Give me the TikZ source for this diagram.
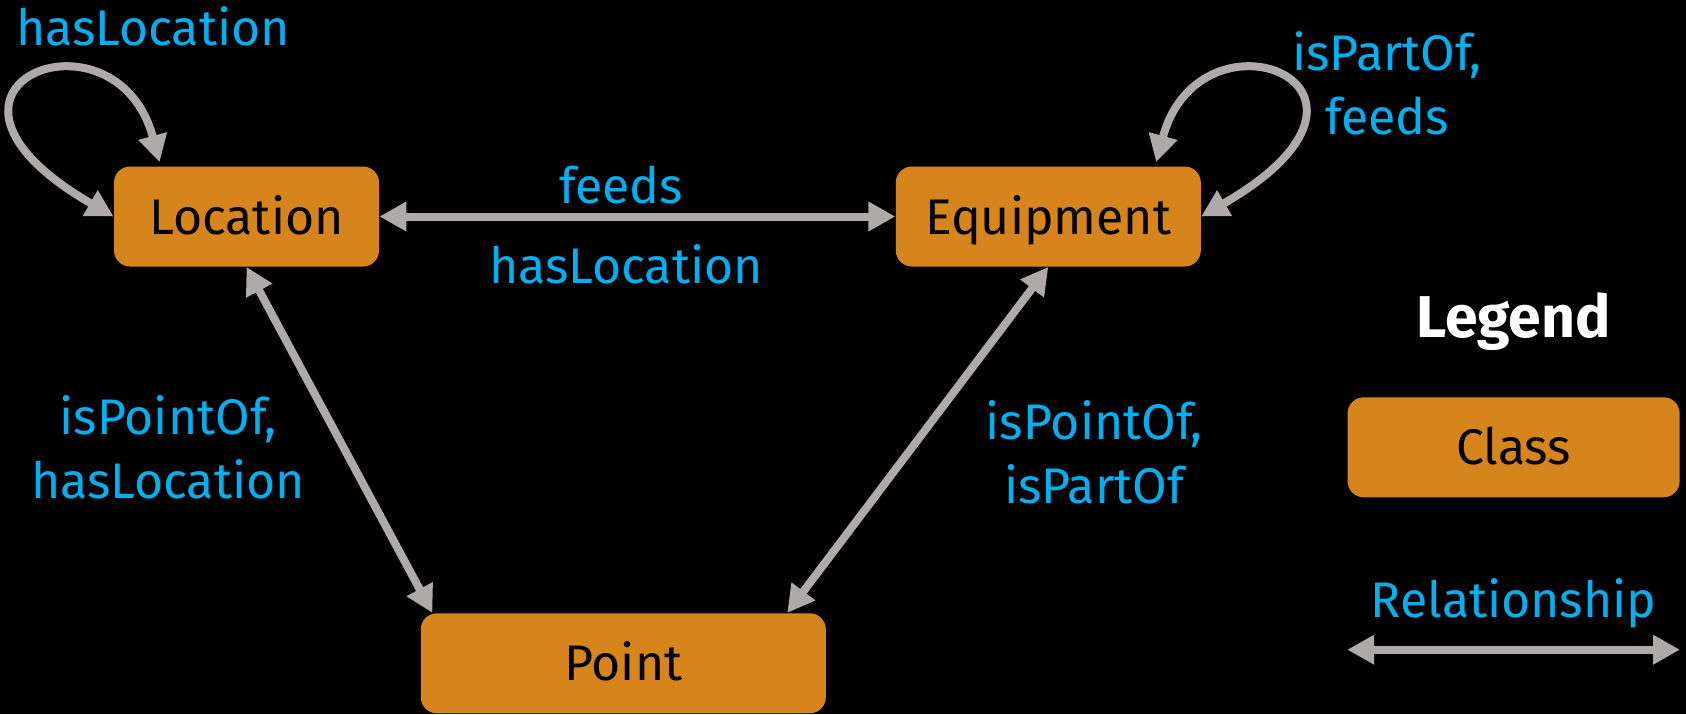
\documentclass[tikz,border=0pt]{standalone}
\usepackage{fontspec}
\setmainfont{Fira Sans}
\usetikzlibrary{arrows.meta,positioning}
\definecolor{clsorange}{RGB}{214,132,28}
\definecolor{relblue}{RGB}{0,176,240}
\definecolor{relgray}{RGB}{174,170,170}

\begin{document}
\begin{tikzpicture}[x=0.5pt, y=-0.5pt]
		\tikzstyle{cls}=[rectangle, rounded corners=8pt, fill=clsorange, text=black, inner sep=0pt, minimum height=50pt, text height=17.5pt, text depth=0pt, font=\fontsize{25}{30}\selectfont]
		\tikzstyle{rel}=[line width=4pt, draw=relgray, >={Triangle[length=13.5pt, width=14pt]}, <->]
		\tikzstyle{rlabel}=[text=relblue, inner sep=0pt, align=center, font=\fontsize{25}{32}\selectfont]
		\useasboundingbox[fill=black] (0,0) rectangle (1686,714);
		
		\node[cls, minimum width=132.5pt] (loc)    at (246.5,216.5)                      {Location};
		\node[cls, minimum width=152.5pt] (equip)  [right=258pt of loc]                  {Equipment};
		\node[cls, minimum width=202.5pt] (point)  [below right=173pt and 20.5pt of loc] {Point};
		\node[cls, minimum width=166pt]   (legcls) [below right=65pt and 73pt of equip]  {Class};
		
		\node[rlabel, anchor=base] (lbltop)    at (153,45)  {hasLocation};
		\node[rlabel, anchor=base] (lblfeeds)  at (621,203) {feeds};
		\node[rlabel, anchor=base] (lblhasloc) at (626,283) {hasLocation};
		\node[rlabel]              (lblleft)   at (168,447) {isPointOf,\\hasLocation};
		\node[rlabel]              (lblright)  at (1094,452) {isPointOf,\\isPartOf};
		\node[rlabel]              (lblloop)   at (1387,83) {isPartOf,\\feeds};
		
		\node[text=white, inner sep=0pt, anchor=base, font=\fontsize{29.5}{35}\selectfont\bfseries] (legtitle) at ([yshift=29.5pt]legcls.north) {Legend};
		\node[rlabel, anchor=base] (legrel) at ([yshift=-60pt]legcls.south) {Relationship};
		\coordinate (relL) at ([yshift=-76pt]legcls.south west);
		\coordinate (relR) at ([yshift=-76pt]legcls.south east);
		
		\path 
		(loc.east) edge [rel] (equip.west)
		
		(loc.south) edge [rel] ([xshift=6pt]point.north west)
		
		(equip.south) edge [rel] ([xshift=-19.5pt]point.north east)
		
		(relL) edge [rel] (relR)
		;
		
		\draw[rel] (loc.west) .. controls +(150:130pt) and +(105:85pt) .. ([xshift=23pt, yshift=2pt]loc.north west);
		\draw[rel] (equip.east) .. controls +(30:130pt) and +(75:85pt) .. ([xshift=-22.5pt, yshift=2pt]equip.north east);
		
\end{tikzpicture}
\end{document}
